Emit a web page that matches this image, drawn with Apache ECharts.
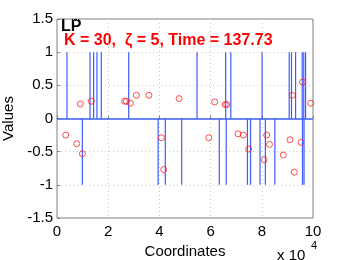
<!DOCTYPE html>
<html><head><meta charset="utf-8">
<script src="https://cdn.jsdelivr.net/npm/echarts@6/dist/echarts.min.js"></script>
<style>html,body{margin:0;padding:0;background:#fff}#c{width:346px;height:260px}</style>
</head><body><div id="c"></div>
<script>
// Original signal (stems), x in units of 10^4
var stemX = [0.39,1.29,1.43,1.56,1.73,2.80,5.47,6.59,6.79,8.01,9.07,9.16,9.32,9.58,9.64,9.71,
             0.99,3.95,4.23,4.87,6.34,6.61,7.44,7.56,7.93,8.14,8.51,9.59,9.65];
var stemY = [1,1,1,1,1,1,1,1,1,1,1,1,1,1,1,1,
             -1,-1,-1,-1,-1,-1,-1,-1,-1,-1,-1,-1,-1];
// Recovered values (red circles)
var recX = [0.91,1.34,2.64,2.71,2.87,3.10,3.59,4.77,6.16,6.57,6.63,9.19,9.59,9.91,
            0.34,0.77,0.99,4.08,4.17,5.93,7.07,7.28,7.49,8.09,8.19,8.30,8.84,9.10,9.27,9.53];
var recY = [0.22,0.26,0.26,0.26,0.23,0.35,0.35,0.30,0.25,0.21,0.21,0.35,0.55,0.23,
            -0.25,-0.38,-0.53,-0.29,-0.77,-0.29,-0.23,-0.25,-0.46,-0.62,-0.25,-0.39,-0.55,-0.32,-0.81,-0.36];
var xTicks = [0,2,4,6,8,10];
var yTicks = [-1.5,-1,-0.5,0,0.5,1,1.5];

var font = 'Liberation Sans, Arial, Helvetica, sans-serif';
var chart = echarts.init(document.getElementById('c'), null, {renderer:'canvas'});
var stemData = stemX.map(function(x,i){return [x, stemY[i]];});
var recData = recX.map(function(x,i){return [x, recY[i]];});
chart.setOption({
  animation:false,
  grid:{left:57, top:19, width:256, height:199, outerBoundsMode:'none', containLabel:false,
        show:true, borderColor:'#7f7f7f', borderWidth:1, backgroundColor:'#fff'},
  xAxis:{type:'value', min:0, max:10, interval:2,
    axisLine:{show:false}, axisTick:{show:true, inside:true, length:3, lineStyle:{color:'#7f7f7f'}},
    splitLine:{show:true, lineStyle:{color:'#c8c8c8', type:[1,3], width:1}},
    axisLabel:{fontFamily:font, fontSize:15, color:'#000', margin:6,
      formatter:function(v){return xTicks.indexOf(v)>=0? String(v):'';}},
    name:'Coordinates', nameLocation:'middle', nameGap:16,
    nameTextStyle:{fontFamily:font, fontSize:15, color:'#000'}},
  yAxis:{type:'value', min:-1.5, max:1.5, interval:0.5,
    axisLine:{show:false}, axisTick:{show:true, inside:true, length:3, lineStyle:{color:'#7f7f7f'}},
    splitLine:{show:true, lineStyle:{color:'#c8c8c8', type:[1,3], width:1}},
    axisLabel:{fontFamily:font, fontSize:15, color:'#000', margin:4,
      formatter:function(v){return yTicks.indexOf(v)>=0? String(v):'';}},
    name:'Values', nameLocation:'middle', nameGap:35, nameRotate:90,
    nameTextStyle:{fontFamily:font, fontSize:15, color:'#000'}},
  series:[
    {type:'custom', data:stemData, z:2,
     renderItem:function(params, api){
       var p0 = api.coord([api.value(0), 0]);
       var p1 = api.coord([api.value(0), api.value(1)]);
       return {type:'line', shape:{x1:p0[0], y1:p0[1], x2:p1[0], y2:p1[1]},
               style:{stroke:'#3d5cff', lineWidth:1.2}};
     },
     markLine:{silent:true, symbol:['none','none'], label:{show:false},
       lineStyle:{color:'#3d5cff', width:1.5, type:'solid'}, data:[{yAxis:0}]}
    },
    {type:'scatter', data:recData, z:3, symbol:'circle', symbolSize:6,
     itemStyle:{color:'rgba(0,0,0,0)', borderColor:'#ff2020', borderWidth:1}}
  ],
  graphic:[
    {type:'text', left:61, top:19, style:{text:'LP', font:'bold 16px '+font, fill:'#000'}},
    {type:'text', left:64, top:33, style:{text:'K = 30,  \u03B6 = 5, Time = 137.73', font:'bold 16px '+font, fill:'#ff0000'}},
    {type:'text', left:277, top:248, style:{text:'x 10', font:'15px '+font, fill:'#000'}},
    {type:'text', left:311, top:240, style:{text:'4', font:'11px '+font, fill:'#000'}}
  ]
});
</script></body></html>
